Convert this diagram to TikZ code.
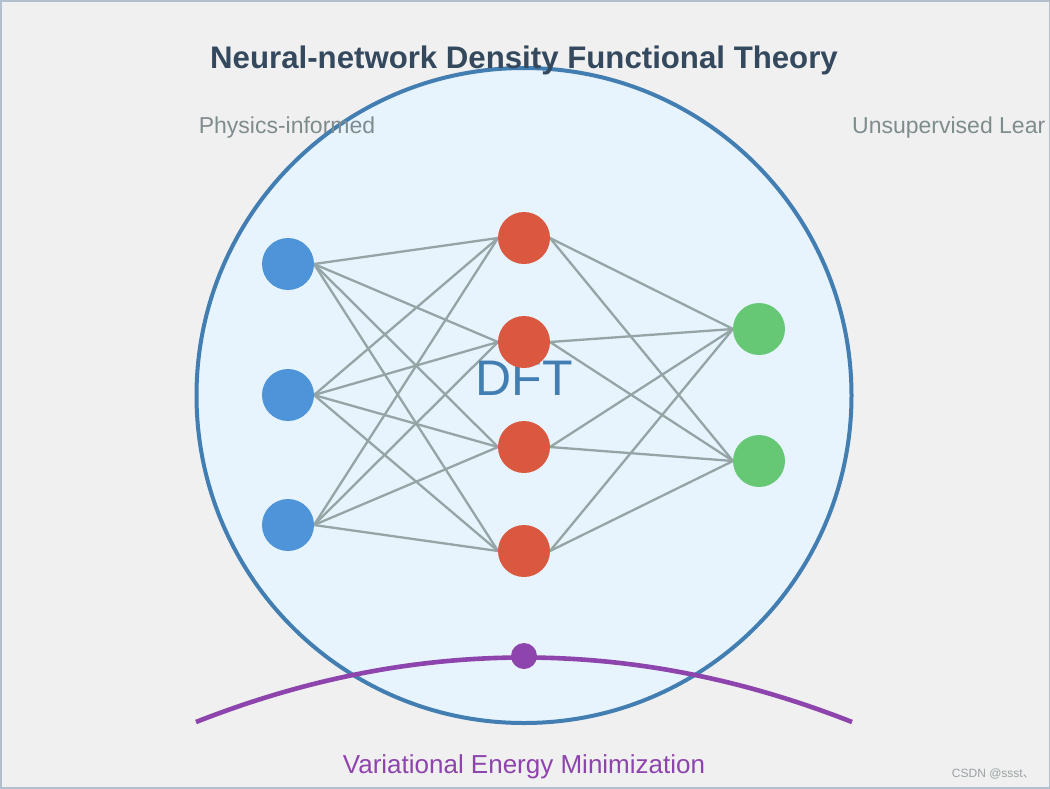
\documentclass[tikz,border=0pt]{standalone}
\usepackage{fontspec}
\setmainfont{Liberation Sans}
\newfontfamily\cjk{Noto Sans CJK SC}
\usepackage{xcolor}
\usetikzlibrary{positioning,backgrounds}
\pgfdeclarelayer{links}
\pgfsetlayers{background,links,main}
\definecolor{bg}{RGB}{240,240,240}
\definecolor{frame}{RGB}{178,192,206}
\definecolor{ttl}{RGB}{52,73,94}
\definecolor{lbl}{RGB}{127,140,141}
\definecolor{ring}{RGB}{66,126,178}
\definecolor{ringfill}{RGB}{231,243,253}
\definecolor{edge}{RGB}{149,165,166}
\definecolor{inp}{RGB}{78,148,216}
\definecolor{hid}{RGB}{218,88,64}
\definecolor{outp}{RGB}{102,200,117}
\definecolor{vio}{RGB}{142,68,173}
\newcommand{\fs}[1]{\fontsize{#1}{#1}\selectfont}

\begin{document}
\begin{tikzpicture}[
  x=1pt,y=-1pt,
  neuron/.style={circle,minimum size=52pt,inner sep=0pt,outer sep=0pt},
  inn/.style={neuron,fill=inp},
  hdn/.style={neuron,fill=hid},
  onn/.style={neuron,fill=outp},
  txt/.style={inner sep=0pt,anchor=base},
  link/.style={draw=edge,line width=2.3pt}
]
\useasboundingbox (0,0) rectangle (1050,788);

\begin{pgfonlayer}{background}
\fill[bg] (0,0) rectangle (1050,788);
\draw[frame,line width=3pt] (0,0) rectangle (1050,788);
\node[circle,draw=ring,fill=ringfill,line width=4pt,minimum size=655pt,inner sep=0pt] (dft) at (524,395.5) {};
\end{pgfonlayer}

\node[txt,text=ring,font=\fs{50}] (dftlbl) at (524,395) {DFT};

\node[inn] (i1) at (288,264) {};
\node[inn] (i2) at (288,395) {};
\node[inn] (i3) at (288,525) {};
\node[hdn] (h1) at (524,238) {};
\node[hdn] (h2) at (524,342) {};
\node[hdn] (h3) at (524,447) {};
\node[hdn] (h4) at (524,551) {};
\node[onn] (o1) at (759,329) {};
\node[onn] (o2) at (759,461) {};

% fully connected layers
\begin{pgfonlayer}{links}
\foreach \a in {i1,i2,i3}
  \foreach \b in {h1,h2,h3,h4}
    \draw[link] (\a.east) -- (\b.west);
\foreach \a in {h1,h2,h3,h4}
  \foreach \b in {o1,o2}
    \draw[link] (\a.east) -- (\b.west);
\end{pgfonlayer}

\coordinate (eL) at (196,722);
\coordinate (eR) at (852,722);
\draw[vio,line width=4.6pt] (eL) .. controls (414,636) and (634,636) .. (eR);
\node[circle,fill=vio,minimum size=26pt,inner sep=0pt] (emin) at (524,656) {};

\node[txt,text=ttl,font=\bfseries\fs{31.2}] (title) at (524,68) {Neural-network Density Functional Theory};
\node[txt,text=lbl,font=\fs{23}] (phys) at (287,133) {Physics-informed};
\node[txt,text=lbl,font=\fs{23},anchor=base west] (unsup) at (852,133) {Unsupervised Lear};
\node[txt,text=vio,font=\fs{26}] (varmin) at (524,773) {Variational Energy Minimization};
\node[txt,text=lbl!80,font=\fs{12},anchor=base east] (mark) at (1035,777) {CSDN @ssst{\cjk 、}};
\end{tikzpicture}
\end{document}
